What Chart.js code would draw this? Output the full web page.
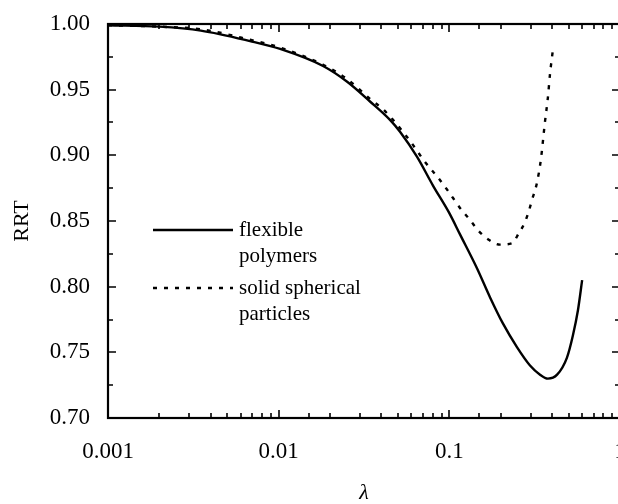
<!DOCTYPE html>
<html>
<head>
<meta charset="utf-8">
<script src="https://cdn.jsdelivr.net/npm/chart.js@4"></script>
<style>
  html, body { margin: 0; padding: 0; background: #fff; overflow: hidden; }
  #wrap { width: 640px; height: 504px; }
</style>
</head>
<body>
<div id="wrap"><canvas id="rrtChart" width="640" height="504"></canvas></div>
<script>
'use strict';

// flexible polymers (solid line)
const lambdaPoly = [0.001, 0.002, 0.0035, 0.0068, 0.0102, 0.0182, 0.0252, 0.0343, 0.0449, 0.0514,
  0.0646, 0.0802, 0.1, 0.1153, 0.1452, 0.173, 0.206, 0.249, 0.297, 0.340, 0.378, 0.428,
  0.489, 0.530, 0.567, 0.600];
const rrtPoly = [0.999, 0.998, 0.995, 0.987, 0.981, 0.968, 0.956, 0.941, 0.927, 0.918,
  0.899, 0.877, 0.856, 0.840, 0.814, 0.792, 0.772, 0.754, 0.740, 0.733, 0.730, 0.733,
  0.746, 0.763, 0.782, 0.805];

// solid spherical particles (dotted line)
const lambdaSphere = [0.001, 0.002, 0.0035, 0.0068, 0.0102, 0.0182, 0.0252, 0.0343, 0.0409, 0.0468,
  0.0588, 0.072, 0.0859, 0.0969, 0.1186, 0.132, 0.147, 0.169, 0.198, 0.233, 0.256, 0.277,
  0.293, 0.305, 0.326, 0.344, 0.363, 0.378, 0.389, 0.405];
const rrtSphere = [0.999, 0.998, 0.996, 0.988, 0.982, 0.969, 0.958, 0.943, 0.935, 0.927,
  0.911, 0.895, 0.883, 0.874, 0.858, 0.851, 0.843, 0.836, 0.832, 0.833, 0.841, 0.849,
  0.858, 0.866, 0.879, 0.897, 0.925, 0.944, 0.962, 0.981];

const legendLines = [['flexible', 'polymers'], ['solid spherical', 'particles']];
const xLabels = [0.001, 0.01, 0.1, 1];
const yRange = [0.70, 1.00];

const serif = 'Liberation Serif';
const toPoints = (xs, ys) => xs.map((v, i) => ({ x: v, y: ys[i] }));
const isDecade = v => xLabels.some(d => Math.abs(v - d) < d * 1e-6);

// Marco con marcas hacia adentro en los cuatro lados
const frameTicks = {
  id: 'frameTicks',
  afterDatasetsDraw(chart) {
    const { ctx, chartArea: a, scales: { x, y } } = chart;
    ctx.save();
    ctx.strokeStyle = '#000';
    ctx.lineWidth = 1.6;
    ctx.beginPath();
    x.ticks.forEach(t => {
      const px = Math.round(x.getPixelForValue(t.value));
      const len = isDecade(t.value) ? 8 : 5;
      ctx.moveTo(px, a.bottom); ctx.lineTo(px, a.bottom - len);
      ctx.moveTo(px, a.top); ctx.lineTo(px, a.top + len);
    });
    y.ticks.forEach((t, i) => {
      const py = Math.round(y.getPixelForValue(t.value));
      const len = i % 2 ? 5 : 8;
      ctx.moveTo(a.left, py); ctx.lineTo(a.left + len, py);
      ctx.moveTo(a.right, py); ctx.lineTo(a.right - len, py);
    });
    ctx.stroke();
    ctx.lineWidth = 2.2;
    ctx.strokeRect(a.left, a.top, a.right - a.left, a.bottom - a.top);
    ctx.restore();
  }
};

// Leyenda dentro del área, con texto en dos líneas
const innerLegend = {
  id: 'innerLegend',
  afterDraw(chart) {
    const { ctx } = chart;
    const rows = [230, 288];
    ctx.save();
    ctx.font = '21px "' + serif + '"';
    ctx.fillStyle = '#000';
    ctx.textBaseline = 'middle';
    chart.data.datasets.forEach((ds, i) => {
      const yy = rows[i];
      ctx.strokeStyle = '#000';
      ctx.lineWidth = 2.4;
      ctx.setLineDash(ds.borderDash || []);
      ctx.beginPath();
      ctx.moveTo(153, yy);
      ctx.lineTo(233, yy);
      ctx.stroke();
      ctx.setLineDash([]);
      legendLines[i].forEach((txt, k) => ctx.fillText(txt, 239, yy + k * 26));
    });
    ctx.restore();
  }
};

new Chart(document.getElementById('rrtChart'), {
  type: 'line',
  data: {
    datasets: [
      {
        label: 'flexible polymers',
        data: toPoints(lambdaPoly, rrtPoly),
        borderColor: '#000',
        borderWidth: 2.4,
        pointRadius: 0,
        cubicInterpolationMode: 'monotone',
        fill: false,
      },
      {
        label: 'solid spherical particles',
        data: toPoints(lambdaSphere, rrtSphere),
        borderColor: '#000',
        borderWidth: 2.4,
        borderDash: [4, 7],
        pointRadius: 0,
        cubicInterpolationMode: 'monotone',
        fill: false,
      },
    ],
  },
  options: {
    responsive: false,
    animation: false,
    layout: { padding: { left: 0, top: 24, right: 20, bottom: 0 } },
    plugins: { legend: { display: false }, tooltip: { enabled: false } },
    scales: {
      x: {
        type: 'logarithmic',
        min: 0.001,
        max: 1,
        afterFit: s => {
          s.height = 86;
          s.paddingLeft = 0;
          s.paddingRight = 0;
        },
        grid: { display: false, drawTicks: false },
        border: { display: false },
        ticks: {
          autoSkip: false,
          maxRotation: 0,
          padding: 20,
          color: '#000',
          font: { family: serif, size: 23 },
          callback: v => (isDecade(v) ? String(v) : ''),
        },
        title: {
          display: true,
          text: 'λ',
          color: '#000',
          padding: { top: 0, bottom: 0 },
          font: { family: serif, size: 22, style: 'italic', lineHeight: 1 },
        },
      },
      y: {
        min: yRange[0],
        max: yRange[1],
        afterFit: s => {
          s.width = 108;
          s.paddingTop = 0;
          s.paddingBottom = 0;
        },
        grid: { display: false, drawTicks: false },
        border: { display: false },
        ticks: {
          stepSize: 0.025,
          padding: 18,
          color: '#000',
          font: { family: serif, size: 23 },
          callback: (v, i) => (i % 2 ? '' : v.toFixed(2)),
        },
        title: {
          display: true,
          text: 'RRT',
          color: '#000',
          padding: { top: 11, bottom: 0 },
          font: { family: serif, size: 22, lineHeight: 1 },
        },
      },
    },
  },
  plugins: [frameTicks, innerLegend],
});
</script>
</body>
</html>
